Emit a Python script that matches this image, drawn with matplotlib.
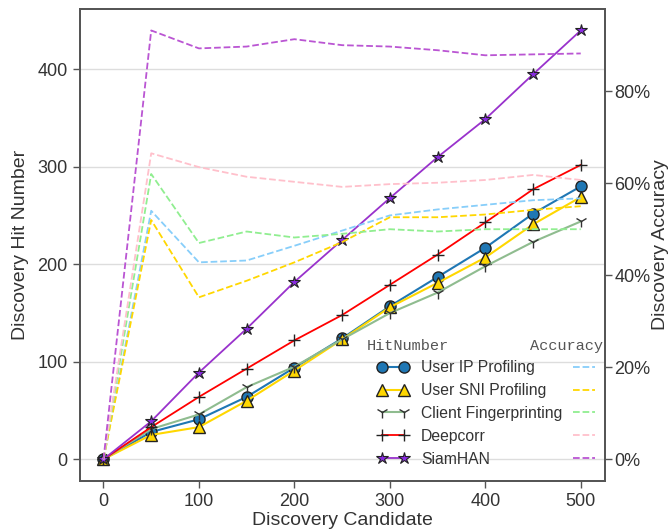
import numpy as np
import matplotlib
matplotlib.use('Agg')
import matplotlib.pyplot as plt
from matplotlib.ticker import PercentFormatter

plt.rcParams['font.family'] = ['Liberation Sans', 'DejaVu Sans']

candidates = [0, 50, 100, 150, 200, 250, 300, 350, 400, 450, 500]
methods = ['User IP Profiling', 'User SNI Profiling', 'Client Fingerprinting', 'Deepcorr', 'SiamHAN']

# hit numbers
hit_ip = [0, 28, 41, 64, 94, 124, 157, 187, 217, 252, 280]
hit_sni = [0, 25, 33, 60, 91, 123, 156, 181, 207, 241, 269]
hit_cf = [0, 31, 46, 74, 95, 123, 150, 171, 198, 223, 244]
hit_deepcorr = [0, 33, 64, 93, 122, 148, 179, 210, 243, 277, 302]
hit_siamhan = [0, 39, 89, 134, 182, 225, 268, 310, 349, 395, 440]

# accuracy (fraction)
acc_ip = [0, 0.54, 0.428, 0.432, 0.464, 0.497, 0.53, 0.543, 0.553, 0.563, 0.567]
acc_sni = [0, 0.52, 0.352, 0.388, 0.428, 0.472, 0.526, 0.526, 0.532, 0.542, 0.55]
acc_cf = [0, 0.62, 0.47, 0.495, 0.482, 0.49, 0.50, 0.495, 0.50, 0.50, 0.50]
acc_deepcorr = [0, 0.665, 0.635, 0.614, 0.603, 0.592, 0.598, 0.601, 0.607, 0.618, 0.607]
acc_siamhan = [0, 0.932, 0.893, 0.897, 0.913, 0.90, 0.897, 0.889, 0.878, 0.88, 0.882]

text_c = '#333333'
edge_c = '#555555'

fig = plt.figure(figsize=(6.72, 5.30), dpi=100)
ax = fig.add_axes([0.1185, 0.093, 0.7812, 0.890])
ax2 = ax.twinx()

h1, = ax.plot(candidates, hit_ip, color='#1f77b4', lw=1.5, marker='o', ms=8,
              mfc='#1f77b4', mec='#222222', mew=1)
h2, = ax.plot(candidates, hit_sni, color='#FFD700', lw=1.5, marker='^', ms=8,
              mfc='#FFD700', mec='#222222', mew=1)
h3, = ax.plot(candidates, hit_cf, color='#8FBC8F', lw=1.5, marker='1', ms=9,
              mfc='#333333', mec='#333333', mew=1)
h4, = ax.plot(candidates, hit_deepcorr, color='red', lw=1.3, marker='+', ms=9,
              mec='#222222', mew=1)
h5, = ax.plot(candidates, hit_siamhan, color='#9932CC', lw=1.3, marker='*', ms=9,
              mfc='#8A2BE2', mec='#222222', mew=0.8)

d1, = ax2.plot(candidates, acc_ip, color='lightskyblue', lw=1.3, ls='--')
d2, = ax2.plot(candidates, acc_sni, color='gold', lw=1.3, ls='--')
d3, = ax2.plot(candidates, acc_cf, color='lightgreen', lw=1.3, ls='--')
d4, = ax2.plot(candidates, acc_deepcorr, color='pink', lw=1.3, ls='--')
d5, = ax2.plot(candidates, acc_siamhan, color='mediumorchid', lw=1.3, ls='--')

ax.set_xticks([0, 100, 200, 300, 400, 500])
ax.set_yticks([0, 100, 200, 300, 400])
ax2.set_yticks([0, 0.2, 0.4, 0.6, 0.8])
ax2.yaxis.set_major_formatter(PercentFormatter(1.0, decimals=0))

ax.grid(axis='y', color='#dddddd', lw=1)
ax.set_axisbelow(True)

for a in (ax, ax2):
    for s in a.spines.values():
        s.set_color(edge_c)
        s.set_linewidth(1.3)
    a.tick_params(labelsize=13, colors=edge_c, labelcolor=text_c, length=5, width=1)
ax2.tick_params(pad=2)

ax.set_xlabel('Discovery Candidate', fontsize=14, color=text_c, labelpad=2)
ax.set_ylabel('Discovery Hit Number', fontsize=14, color=text_c, labelpad=6)
ax2.set_ylabel('Discovery Accuracy', fontsize=14, color=text_c, labelpad=1)

handles = [h1, h2, h3, h4, h5, d1, d2, d3, d4, d5]
labels = methods + [''] * 5
leg = ax2.legend(handles, labels, ncol=2, loc='lower right', bbox_to_anchor=(1.042, 0.0),
                 frameon=False, fontsize=11.3, numpoints=2, handlelength=2.0,
                 columnspacing=0.4, labelspacing=0.5, handletextpad=0.8)
for t in leg.get_texts():
    t.set_color(text_c)

ax2.text(0.547, 0.286, 'HitNumber', transform=ax2.transAxes, fontsize=11,
         family='Liberation Mono', color='#555555', va='center', ha='left')
ax2.text(0.858, 0.286, 'Accuracy', transform=ax2.transAxes, fontsize=11,
         family='Liberation Mono', color='#555555', va='center', ha='left')

fig.savefig('out.png', dpi=100)
